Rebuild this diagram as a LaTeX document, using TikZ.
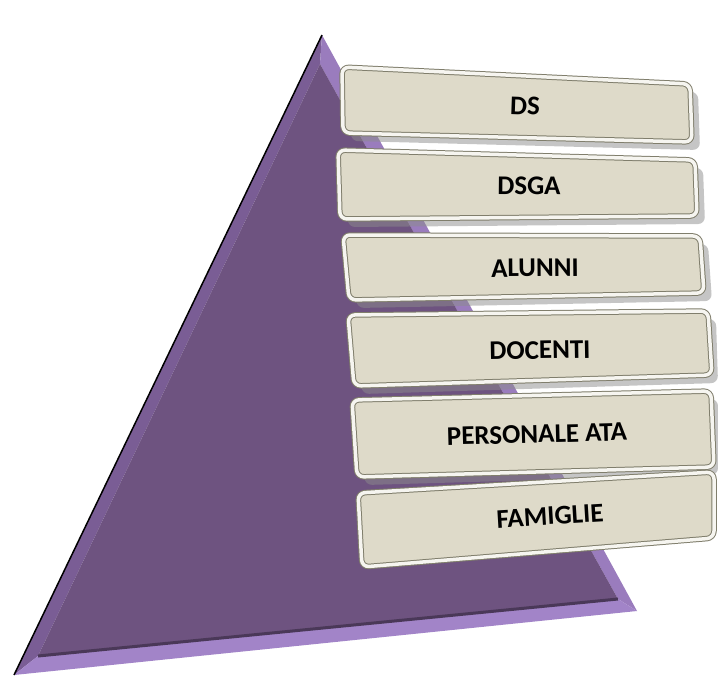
\documentclass[tikz,border=0pt]{standalone}
\usepackage{fontspec}
\setmainfont{Carlito}
\definecolor{pyrface}{RGB}{110,83,128}
\definecolor{pyrleft}{RGB}{122,93,149}
\definecolor{pyrright}{RGB}{154,124,189}
\definecolor{pyrbottom}{RGB}{162,132,200}
\definecolor{pyrdark}{RGB}{74,56,88}
\definecolor{slabfill}{RGB}{222,218,201}
\definecolor{slabline}{RGB}{128,126,108}
\definecolor{slabrim}{RGB}{246,245,240}
\begin{document}
\begin{tikzpicture}[
    x = 1pt,
    y = -1pt,
    face/.style = {fill=pyrface},
    bevel/.style = {line join=round},
    slab/.style = {fill=slabfill, draw=slabline, line width=1pt,
    double=slabrim, double distance=3.5pt, rounded corners=7pt,
    line join=round},
    shade/.style = {fill=black!45, opacity=0.5, rounded corners=7pt},
    tag/.style = {font=\fontsize{27}{30}\selectfont\bfseries,
    text=black, inner sep=0pt},
]
\useasboundingbox (0,0) rectangle (718,678);

% pyramid
\coordinate (apex) at (322,35);
\coordinate (left) at (14,675);
\coordinate (right) at (637,611);
\coordinate (apex_in) at (320,64);
\coordinate (left_in) at (38,656);
\coordinate (right_in) at (618,599);

\fill[bevel, pyrleft] (apex) -- (left) -- (left_in) -- (apex_in) -- cycle;
\fill[bevel, pyrright] (apex) -- (right) -- (right_in) -- (apex_in) -- cycle;
\fill[bevel, pyrbottom] (left) -- (right) -- (right_in) -- (left_in) -- cycle;
\fill[face] (apex_in) -- (left_in) -- (right_in) -- cycle;
\draw[pyrdark, line width=3pt] (left_in) -- (right_in);
\draw[black, line width=1.5pt] (apex) -- (left);

% shadows
\fill[shade] (350,75) -- (698,92) -- (700,150) -- (351,141) -- cycle;
\fill[shade] (346,158) -- (703,168) -- (705,224) -- (348,227) -- cycle;
\fill[shade] (351,243) -- (708,244) -- (712,301) -- (357,308) -- cycle;
\fill[shade] (356,323) -- (716,319) -- (718,383) -- (362,394) -- cycle;
\fill[shade] (360,408) -- (718,399) -- (718,475) -- (365,485) -- cycle;

% slabs
\draw[slab] (342,67) -- (690,84) -- (692,142) -- (343,133) -- cycle;
\draw[slab] (338,150) -- (695,160) -- (697,216) -- (340,219) -- cycle;
\draw[slab] (343,235) -- (700,236) -- (704,293) -- (349,300) -- cycle;
\draw[slab] (348,315) -- (708,311) -- (712,375) -- (354,386) -- cycle;
\draw[slab] (352,400) -- (711,391) -- (714,467) -- (357,477) -- cycle;
\draw[slab] (358,493) -- (714,472) -- (714,538) -- (362,567) -- cycle;

% labels
\node[tag, rotate=-2] (ds) at (525,106) {DS};
\node[tag, rotate=-0.5] (dsga) at (529,186) {DSGA};
\node[tag, rotate=0.5] (alunni) at (535,268) {ALUNNI};
\node[tag, rotate=1] (docenti) at (540,350) {DOCENTI};
\node[tag, rotate=1.5] (ata) at (537,434) {PERSONALE ATA};
\node[tag, rotate=3.5] (famiglie) at (550,516) {FAMIGLIE};

\end{tikzpicture}
\end{document}
